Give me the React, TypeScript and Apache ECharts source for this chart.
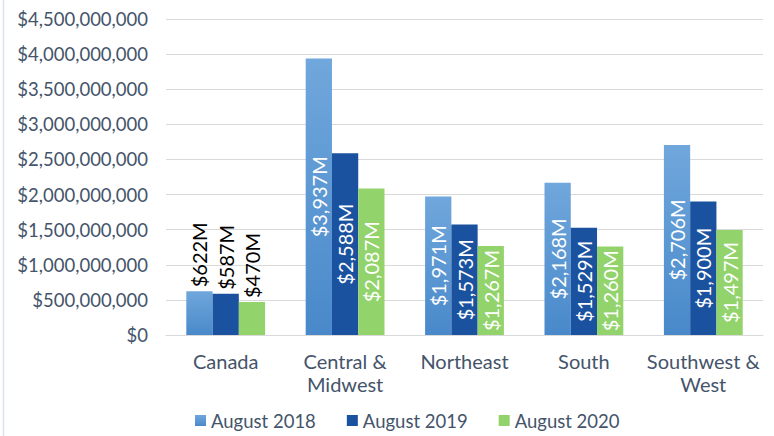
import React, { useEffect, useRef } from "react";
import * as echarts from "echarts";

const categories = ["Canada", "Central &\nMidwest", "Northeast", "South", "Southwest &\nWest"];
const seriesNames = ["August 2018", "August 2019", "August 2020"];
const aug2018 = [622, 3937, 1971, 2168, 2706];
const aug2019 = [587, 2588, 1573, 1529, 1900];
const aug2020 = [470, 2087, 1267, 1260, 1497];
const yTicksMax = 4500000000;
const yInterval = 500000000;

const fmtAxis = (v: number) => "$" + v.toLocaleString("en-US");
const fmtLabel = (m: number) => "$" + m.toLocaleString("en-US") + "M";

export default function App() {
  const ref = useRef<HTMLDivElement>(null);
  useEffect(() => {
    if (!ref.current) return;
    const chart = echarts.init(ref.current, undefined, { renderer: "svg" });
    const colors = [
      new echarts.graphic.LinearGradient(0, 0, 0, 1, [
        { offset: 0, color: "#70A7DC" },
        { offset: 1, color: "#4989CA" },
      ]),
      "#1B52A0",
      "#92D36C",
    ];
    const datasets = [aug2018, aug2019, aug2020];
    const font = "Lato, 'Noto Sans', sans-serif";
    chart.setOption({
      animation: false,
      textStyle: { fontFamily: font },
      graphic: [
        {
          type: "line",
          shape: { x1: 3.5, y1: 0, x2: 3.5, y2: 436 },
          style: { stroke: "#DCE1EA", lineWidth: 1.5 },
        },
      ],
      grid: { left: 166, right: 11, top: 19, bottom: 101, containLabel: false },
      legend: {
        bottom: 1,
        left: 190,
        itemWidth: 11,
        itemHeight: 11,
        itemGap: 31,
        icon: "rect",
        textStyle: { color: "#44546A", fontSize: 18.5, fontFamily: font },
        data: seriesNames,
      },
      xAxis: {
        type: "category",
        data: categories,
        axisLine: { lineStyle: { color: "#D9D9D9" } },
        axisTick: { show: false },
        axisLabel: {
          color: "#44546A",
          fontSize: 20,
          lineHeight: 23,
          margin: 14,
          interval: 0,
          fontFamily: font,
        },
      },
      yAxis: {
        type: "value",
        min: 0,
        max: yTicksMax,
        interval: yInterval,
        axisLine: { show: false },
        axisTick: { show: false },
        splitLine: { lineStyle: { color: "#D9D9D9" } },
        axisLabel: {
          color: "#44546A",
          fontSize: 18.5,
          margin: 18,
          formatter: fmtAxis,
          fontFamily: font,
        },
      },
      series: datasets.map((vals, si) => ({
        name: seriesNames[si],
        type: "bar",
        barGap: "0%",
        barCategoryGap: "34%",
        itemStyle: { color: colors[si] },
        label: {
          show: true,
          position: "inside",
          rotate: 90,
          align: "center",
          verticalAlign: "middle",
          color: "#FFFFFF",
          fontSize: 20,
          fontFamily: font,
          formatter: (p: any) => fmtLabel(vals[p.dataIndex]),
        },
        data: vals.map((m, i) =>
          i === 0
            ? {
                value: m * 1000000,
                label: {
                  position: "top",
                  rotate: 90,
                  align: "left",
                  verticalAlign: "middle",
                  color: "#000000",
                  distance: 4,
                },
              }
            : { value: m * 1000000 }
        ),
      })),
    });
    return () => chart.dispose();
  }, []);
  return (
    <div
      ref={ref}
      style={{ position: "fixed", left: 0, top: 0, width: 774, height: 436, background: "#fff" }}
    />
  );
}
